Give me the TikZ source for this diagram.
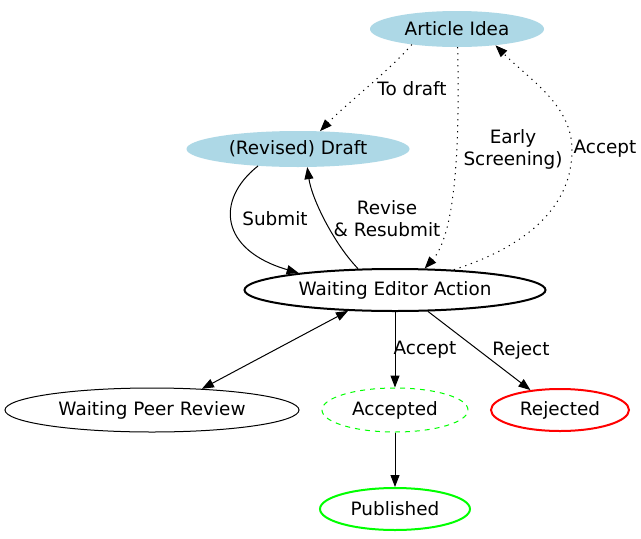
\documentclass[tikz,border=0pt]{standalone}
\usepackage{fontspec}
\setmainfont{DejaVu Sans}
\usetikzlibrary{shapes.geometric,arrows.meta}
\definecolor{lblue}{HTML}{ADD8E6}
\definecolor{gvgreen}{HTML}{00FF00}
\definecolor{gvred}{HTML}{FF0000}
\begin{document}
\begin{tikzpicture}[x=1pt,y=-1pt,
  font=\fontsize{18.4}{22}\selectfont,
  st/.style={ellipse,inner sep=0pt,align=center},
  lbl/.style={align=center,inner sep=0pt},
  tip/.style={Triangle[length=12pt,width=9pt]},
  edge/.style={line width=1pt,-{Triangle[length=12pt,width=9pt]}},
  dots/.style={dash pattern=on 1.2pt off 4.8pt}]
\useasboundingbox[fill=white] (0,0) rectangle (641,539);
\node[st,fill=lblue,minimum width=174pt,minimum height=36pt] (ai) at (457,29) {Article Idea};
\node[st,fill=lblue,minimum width=223pt,minimum height=36pt] (dr) at (298,149) {(Revised) Draft};
\node[st,draw,line width=2pt,minimum width=301pt,minimum height=42pt] (wea) at (395,290) {Waiting Editor Action};
\node[st,draw,line width=1pt,minimum width=294pt,minimum height=44pt] (wpr) at (152,410) {Waiting Peer Review};
\node[st,draw=gvgreen,line width=1pt,dash pattern=on 5pt off 5pt,minimum width=146pt,minimum height=44pt] (acc) at (395,410) {Accepted};
\node[st,draw=gvred,line width=2pt,minimum width=138pt,minimum height=42pt] (rej) at (560,410) {Rejected};
\node[st,draw=gvgreen,line width=2pt,minimum width=150pt,minimum height=42pt] (pub) at (395,509) {Published};

\draw[edge,dots] (ai.-161) .. controls (390,70) and (345,105) .. (dr.39);
\draw[edge,dots] (ai.-88) .. controls (460,150) and (455,235) .. (wea.36);
\draw[edge,dots] (wea.19) .. controls (530,245) and (572,205) .. (572,150)
   .. controls (572,105) and (530,80) .. (ai.-23);
\draw[edge] (dr.-157) .. controls (215,200) and (220,250) .. (wea.170);
\draw[edge] (wea.150) .. controls (335,245) and (312,200) .. (dr.-63);
\draw[edge,{Triangle[length=12pt,width=9pt]}-{Triangle[length=12pt,width=9pt]}] (wea.-156) -- (wpr.23);
\draw[edge] (wea.south) -- (acc.north);
\draw[edge] (wea.-33) -- (rej.146);
\draw[edge] (acc.south) -- (pub.north);

\node[lbl] (l1) at (412,89) {To draft};
\node[lbl] (l2) at (513,149) {Early\\Screening)};
\node[lbl] (l3) at (605,149) {Accept};
\node[lbl] (l4) at (275,219) {Submit};
\node[lbl] (l5) at (387,219) {Revise\\\& Resubmit};
\node[lbl] (l6) at (425,350) {Accept};
\node[lbl] (l7) at (521,350) {Reject};
\end{tikzpicture}
\end{document}
